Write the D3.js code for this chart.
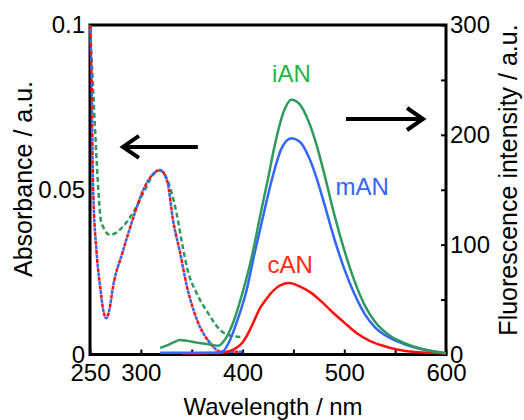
<!DOCTYPE html>
<html>
<head>
<meta charset="utf-8">
<script src="https://cdn.jsdelivr.net/npm/d3@7"></script>
<style>
  html, body { margin: 0; padding: 0; background: #fff; }
  svg { display: block; font-family: "Liberation Sans", Arial, sans-serif; }
</style>
</head>
<body>
<svg id="chart" width="524" height="420"></svg>
<script>
// Absorption spectra (left axis, a.u.)
const absNmMain = [250, 251.7, 253, 256.5, 260, 263, 266, 269, 272.6, 282, 292, 304, 312, 319, 326, 331.6, 338.5, 345.4, 355.2, 368, 378, 388, 400];
const absCAN    = [0.100, 0.080, 0.051, 0.031, 0.0205, 0.0135, 0.011, 0.0135, 0.0205, 0.031, 0.041, 0.051, 0.0548, 0.056, 0.0525, 0.0408, 0.031, 0.0205, 0.0105, 0.0035, 0.0009, 0.0008, 0.0008];
const absMAN    = [0.100, 0.080, 0.051, 0.031, 0.0205, 0.0135, 0.011, 0.0135, 0.0205, 0.031, 0.041, 0.051, 0.0548, 0.056, 0.0525, 0.0408, 0.031, 0.0205, 0.0105, 0.0035, 0.0009, 0.0008, 0.0008];
const absNmI    = [250, 253, 258, 260.5, 263, 269.7, 276, 282, 294, 304, 312, 319, 326, 335, 341, 346, 355, 366, 378, 390, 400];
const absIAN    = [0.100, 0.081, 0.051, 0.041, 0.0387, 0.0363, 0.037, 0.0387, 0.0439, 0.050, 0.0545, 0.0558, 0.053, 0.043, 0.033, 0.0256, 0.0185, 0.0126, 0.0074, 0.0056, 0.0053];

// Fluorescence spectra (right axis, a.u.)
const flNmI  = [319, 325, 332, 338.5, 345, 355, 363, 371, 376, 383, 390.6, 400.7, 409, 417, 425, 432, 440, 448, 456, 465, 473, 481, 490, 500, 510, 520, 530, 545, 560, 575, 590, 600];
const flIAN  = [6, 8, 11, 13.2, 12.5, 10.8, 9.8, 8.6, 7.9, 14, 28.7, 58.7, 88.8, 125, 160, 192, 220, 232, 228, 212, 190, 162, 128, 95, 67, 45, 30, 17, 10, 5.5, 2.5, 1];
const flNmM  = [319, 340, 360, 372, 380, 387.7, 394, 404, 411, 420, 429, 438, 448, 456, 465, 473, 481, 490, 500, 510, 520, 530, 545, 560, 575, 590, 600];
const flMAN  = [1.5, 1.5, 1.5, 1.6, 2.5, 13.2, 28.7, 58.7, 88.8, 125, 160, 187, 197, 194, 180, 160, 135, 106, 78, 55, 37, 25, 15, 9, 5, 2.5, 1.2];
const flNmC  = [340, 360, 372, 380, 391, 400, 407, 412, 417, 423, 430, 437, 446, 456, 466, 476, 489, 500, 512, 525, 538, 552, 567, 585, 600];
const flCAN  = [1.2, 1.2, 1.3, 1.6, 4.5, 11, 22, 32, 42, 50, 58, 63, 65, 62, 57, 49.5, 38, 29, 19.6, 12.5, 8, 4.5, 2.5, 1.5, 1];

// Axis ticks and labels
const xTicks = [250, 300, 350, 400, 450, 500, 550, 600];
const xLabeled = [250, 300, 400, 500, 600];
const yAbsTicks = [0, 0.05, 0.1];
const yFlTicks = [0, 50, 100, 150, 200, 250, 300];
const yFlLabeled = [0, 100, 200, 300];

const colors = { iAN: "#2e9a5c", mAN: "#3366ff", cAN: "#ff1010" };
const labelColors = { iAN: "#1db845", mAN: "#3366ff", cAN: "#ff2a10" };

const svg = d3.select("#chart");
const L = 90, R = 446, T = 25, B = 354.5;

const x = d3.scaleLinear().domain([250, 600]).range([L, R]);
const yA = d3.scaleLinear().domain([0, 0.1]).range([B, T]);
const yF = d3.scaleLinear().domain([0, 300]).range([B, T]);

const zip = (a, b) => a.map((v, i) => [v, b[i]]);
const lineA = d3.line().x(d => x(d[0])).y(d => yA(d[1])).curve(d3.curveMonotoneX);
const lineF = d3.line().x(d => x(d[0])).y(d => yF(d[1])).curve(d3.curveMonotoneX);

// axes
const fmtAbs = d => d === 0 ? "0" : String(d);
const gx = svg.append("g").attr("transform", `translate(0,${B})`)
  .call(d3.axisBottom(x).tickValues(xTicks).tickSizeInner(-5).tickSizeOuter(0).tickPadding(9.5)
    .tickFormat(d => xLabeled.includes(d) ? d : ""));
const gl = svg.append("g").attr("transform", `translate(${L},0)`)
  .call(d3.axisLeft(yA).tickValues(yAbsTicks).tickSizeInner(0).tickSizeOuter(0).tickPadding(5)
    .tickFormat(fmtAbs));
const gr = svg.append("g").attr("transform", `translate(${R},0)`)
  .call(d3.axisRight(yF).tickValues(yFlTicks).tickSizeInner(-5).tickSizeOuter(0).tickPadding(4)
    .tickFormat(d => yFlLabeled.includes(d) ? d : ""));

[gx, gl, gr].forEach(g => {
  g.select(".domain").remove();
  g.selectAll(".tick line").attr("stroke", "#000").attr("stroke-width", 2);
  g.selectAll(".tick text").attr("fill", "#000").attr("font-size", 24)
    .attr("font-family", "Liberation Sans, Arial, sans-serif");
});

// frame
svg.append("rect").attr("x", L).attr("y", T).attr("width", R - L).attr("height", B - T)
  .attr("fill", "none").attr("stroke", "#000").attr("stroke-width", 3);

const plot = svg.append("g");

// absorption (dashed)
plot.append("path").attr("d", lineA(zip(absNmI, absIAN)))
  .attr("fill", "none").attr("stroke", colors.iAN).attr("stroke-width", 2.5)
  .attr("stroke-dasharray", "5,3");
plot.append("path").attr("d", lineA(zip(absNmMain, absCAN)))
  .attr("fill", "none").attr("stroke", colors.cAN).attr("stroke-width", 2.5)
  .attr("stroke-dasharray", "4,5");
plot.append("path").attr("d", lineA(zip(absNmMain, absMAN)))
  .attr("fill", "none").attr("stroke", colors.mAN).attr("stroke-width", 2.5)
  .attr("stroke-dasharray", "4,5").attr("stroke-dashoffset", -4.5);

// fluorescence (solid)
plot.append("path").attr("d", lineF(zip(flNmC, flCAN)))
  .attr("fill", "none").attr("stroke", colors.cAN).attr("stroke-width", 2.5);
plot.append("path").attr("d", lineF(zip(flNmM, flMAN)))
  .attr("fill", "none").attr("stroke", colors.mAN).attr("stroke-width", 2.5);
plot.append("path").attr("d", lineF(zip(flNmI, flIAN)))
  .attr("fill", "none").attr("stroke", colors.iAN).attr("stroke-width", 2.5);

// axis titles
svg.append("text").attr("transform", `translate(32,179) rotate(-90)`)
  .attr("text-anchor", "middle").attr("font-size", 25).attr("fill", "#000")
  .text("Absorbance / a.u.");
svg.append("text").attr("transform", `translate(517,180) rotate(-90)`)
  .attr("text-anchor", "middle").attr("font-size", 25).attr("fill", "#000")
  .text("Fluorescence intensity / a.u.");
svg.append("text").attr("x", 273).attr("y", 415)
  .attr("text-anchor", "middle").attr("font-size", 24).attr("fill", "#000")
  .text("Wavelength / nm");

// series labels
const seriesLabels = [
  { name: "iAN", nm: 448, v: 248 },
  { name: "mAN", nm: 517.5, v: 145 },
  { name: "cAN", nm: 446.7, v: 74 }
];
svg.selectAll("text.series").data(seriesLabels).join("text")
  .attr("class", "series")
  .attr("x", d => x(d.nm)).attr("y", d => yF(d.v))
  .attr("text-anchor", "middle").attr("font-size", 24)
  .attr("fill", d => labelColors[d.name])
  .text(d => d.name);

// arrows pointing to each spectrum's axis
function arrow(x1, x2, y, dir) {
  const g = svg.append("g").attr("fill", "none").attr("stroke", "#000").attr("stroke-width", 4);
  g.append("line").attr("x1", x1).attr("x2", x2).attr("y1", y).attr("y2", y);
  const tip = dir < 0 ? x1 : x2;
  g.append("path").attr("stroke-linejoin", "miter")
    .attr("d", `M${tip - dir * 16},${y - 11}L${tip},${y}L${tip - dir * 16},${y + 11}`);
}
arrow(x(282.4), x(356), yA(0.063), -1);
arrow(x(501.7), x(577.4), yF(214.4), 1);
</script>
</body>
</html>
